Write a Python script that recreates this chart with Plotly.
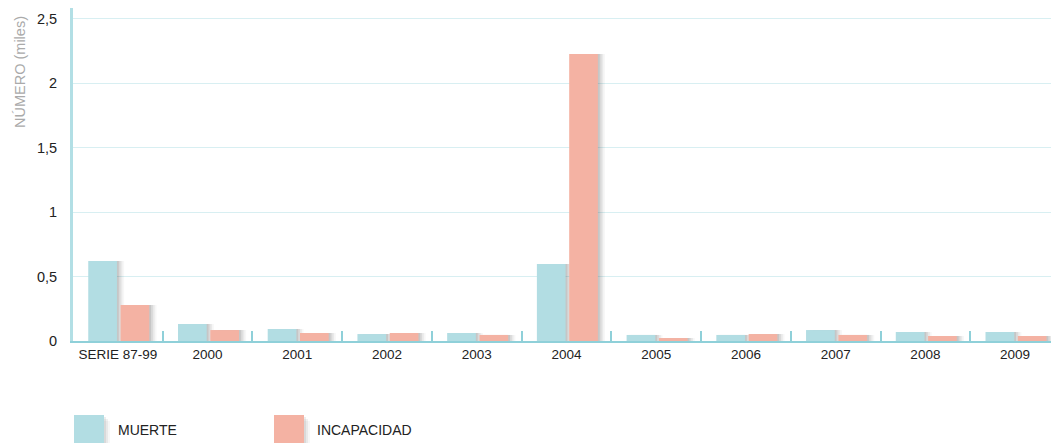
import plotly.graph_objects as go

categories = ["SERIE 87-99", "2000", "2001", "2002", "2003", "2004",
              "2005", "2006", "2007", "2008", "2009"]
muerte = [0.621, 0.132, 0.093, 0.054, 0.062, 0.598, 0.047, 0.047, 0.085, 0.070, 0.070]
incapacidad = [0.280, 0.085, 0.062, 0.062, 0.047, 2.228, 0.023, 0.054, 0.047, 0.039, 0.039]
y_ticks = [0, 0.5, 1, 1.5, 2, 2.5]

COLORS = {"MUERTE": "#b2dde3", "INCAPACIDAD": "#f4b2a3"}
BAR_W = 0.32
OFFSETS = {"MUERTE": -0.33, "INCAPACIDAD": 0.03}

W, H = 1051, 443
# plot area in pixels, used to place the hand-drawn legend
L, R, T, B = 73, 1051, 8, 341


def px_x(x):
    return (x - L) / (R - L)


def px_y(y):
    return (B - y) / (B - T)


fig = go.Figure()

series = [("MUERTE", muerte), ("INCAPACIDAD", incapacidad)]

# soft drop shadow behind each bar
for name, values in series:
    for shift, alpha in [(0.08, 0.04), (0.06, 0.07), (0.04, 0.09), (0.02, 0.11)]:
        fig.add_trace(
            go.Bar(
                x=categories,
                y=values,
                width=BAR_W,
                offset=OFFSETS[name] + shift,
                marker_color=f"rgba(50,50,50,{alpha})",
                marker_line_width=0,
                showlegend=False,
                hoverinfo="skip",
            )
        )

for name, values in series:
    fig.add_trace(
        go.Bar(
            name=name,
            x=categories,
            y=values,
            width=BAR_W,
            offset=OFFSETS[name],
            marker_color=COLORS[name],
            marker_line_width=0,
            showlegend=False,
            hovertemplate=f"{name}: %{{y:.2f}}<extra></extra>",
        )
    )

# legend: big squares with a light shadow
shapes = []
annotations = []
for name, x0, tx in [("MUERTE", 74, 116), ("INCAPACIDAD", 274, 315)]:
    for d, a in [(6, 0.04), (4, 0.07), (2, 0.09)]:
        shapes.append(dict(type="rect", xref="paper", yref="paper",
                           x0=px_x(x0 + d), x1=px_x(x0 + 30 + d),
                           y0=px_y(415 + d), y1=px_y(447 + d),
                           fillcolor=f"rgba(50,50,50,{a})", line_width=0, layer="above"))
    shapes.append(dict(type="rect", xref="paper", yref="paper",
                       x0=px_x(x0), x1=px_x(x0 + 30),
                       y0=px_y(415), y1=px_y(447),
                       fillcolor=COLORS[name], line_width=0, layer="above"))
    annotations.append(dict(text=name, xref="paper", yref="paper",
                            x=px_x(tx), y=px_y(430), xanchor="left", yanchor="middle",
                            showarrow=False, font=dict(size=14, color="#222222")))

annotations.append(dict(text="NÚMERO (miles)", xref="paper", yref="paper",
                        x=px_x(20), y=px_y(14), xanchor="center", yanchor="top",
                        textangle=-90, showarrow=False,
                        font=dict(size=14.5, color="#aaaaaa")))

fig.update_layout(
    width=W,
    height=H,
    barmode="overlay",
    separators=",.",
    plot_bgcolor="white",
    paper_bgcolor="white",
    margin=dict(l=L, r=W - R, t=T, b=H - B, autoexpand=False),
    font=dict(family="Liberation Sans, Arial, sans-serif", size=14, color="#222222"),
    shapes=shapes,
    annotations=annotations,
    showlegend=False,
)
fig.update_xaxes(
    type="category",
    range=[-0.5, 10.4],
    showline=True,
    linecolor="#8fd0d9",
    linewidth=2,
    showgrid=False,
    ticks="inside",
    tickson="boundaries",
    ticklen=10,
    tickwidth=2,
    tickcolor="#8fd0d9",
    tickfont=dict(size=13.5, color="#222222"),
)
fig.update_yaxes(
    range=[0, 2.585],
    tickvals=y_ticks,
    showline=True,
    linecolor="#b2dfe5",
    linewidth=3,
    showgrid=True,
    gridcolor="#d8eff2",
    gridwidth=1,
    zeroline=False,
    ticks="",
    ticklabelstandoff=10,
    tickfont=dict(size=14.5, color="#222222"),
)

# drop the default 8px page margin so the figure fills the window exactly
fig.write_html(
    "out.html",
    config={"displayModeBar": False},
    post_script="document.body.style.margin='0';document.body.style.overflow='hidden';",
)
